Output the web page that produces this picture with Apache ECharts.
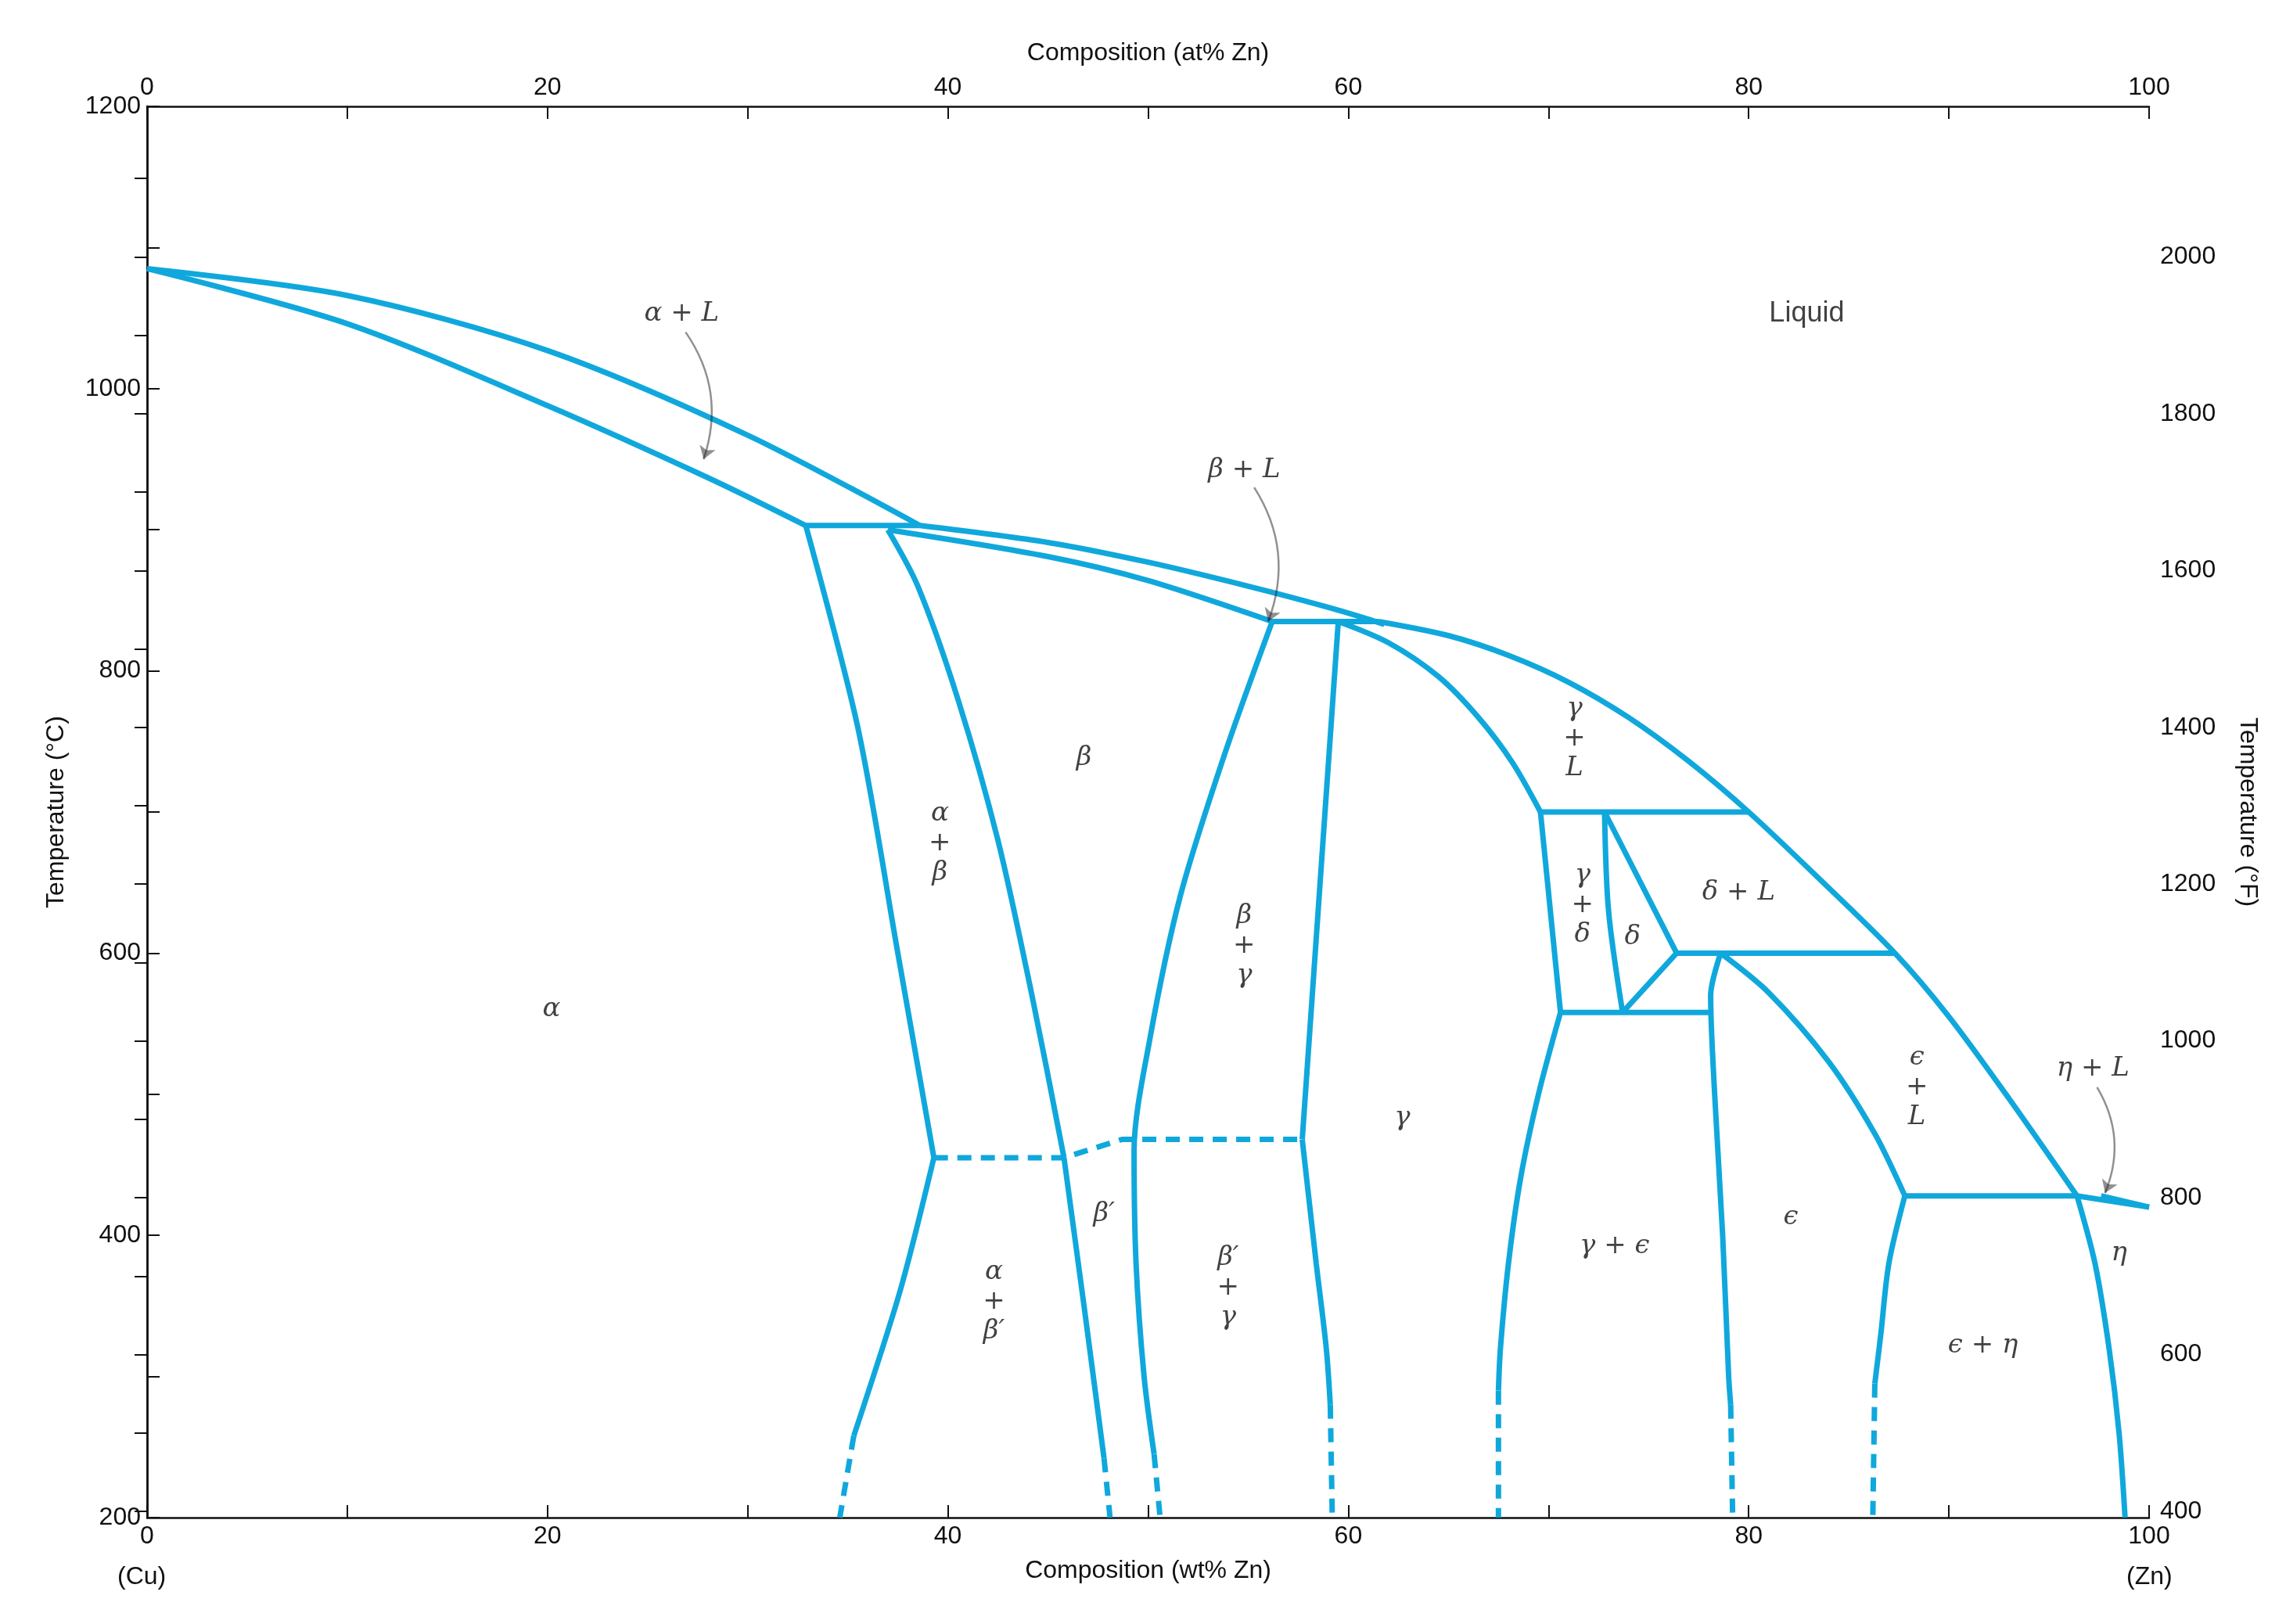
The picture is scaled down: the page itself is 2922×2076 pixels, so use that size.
<!DOCTYPE html>
<html><head><meta charset="utf-8">
<script src="https://cdn.jsdelivr.net/npm/echarts@6/dist/echarts.min.js"></script>
<style>html,body{margin:0;background:#fff}#c{width:2922px;height:2076px}</style></head>
<body><div id="c"></div>
<script>
// Boundaries: [wt% Zn, °C]
const alphaLiquidus = [[0,1085],[10,1066],[20,1027],[30,967],[38.6,903]];
const alphaSolidus = [[0,1085],[10,1046],[20,988],[28,937],[32.9,903]];
const peritectic903 = [[32.9,903],[38.6,903]];
const alphaSolvusHigh = [[32.9,903],[35.5,760],[37.5,600],[39.3,455]];
const alphaSolvusLow = [[39.3,455],[37.6,360],[35.3,258]];
const alphaSolvusDash = [[35.3,258],[34.6,200]];
const betaLeftHigh = [[37.0,900],[38.5,860],[40.5,780],[42.5,680],[44.2,570],[45.8,455]];
const betaLeftLow = [[45.8,455],[46.8,350],[47.8,242]];
const betaLeftDash = [[47.8,242],[48.1,200]];
const orderDash1 = [[39.3,455],[45.8,455],[48.7,468],[57.7,468]];
const betaLiquidus = [[38.6,903],[45,891],[50,877],[55,860],[59,845],[61.8,833]];
const betaSolidus = [[37.0,900],[45,881],[50,864],[56.2,835]];
const peritectic835 = [[56.2,835],[61.5,835]];
const betaGammaLeft = [[56.2,835],[53.8,740],[51.6,640],[50.1,540],[49.3,460],[49.4,380],[49.8,300],[50.3,245]];
const betaGammaLeftDash = [[50.3,245],[50.6,200]];
const gammaLeftHigh = [[59.5,835],[57.7,468]];
const gammaLeftLow = [[57.7,468],[58.4,380],[58.9,320],[59.1,280]];
const gammaLeftDash = [[59.1,280],[59.2,200]];
const gammaLiquidus = [[61.5,835],[65,825],[68,811],[71,792],[74,767],[77,736],[80,700],[83.5,653],[87.3,600],[90,555],[93,497],[96.4,428]];
const zincEnd = [[96.4,428],[100,420]];
const gammaSolidus = [[59.5,835],[62,820],[64.5,796],[66.5,767],[68.2,735],[69.6,700]];
const peritectic700 = [[69.6,700],[80,700]];
const gammaDelta = [[69.6,700],[70.6,558]];
const gammaEps = [[70.6,558],[69.5,500],[68.6,440],[68,380],[67.6,320],[67.5,290]];
const gammaEpsDash = [[67.5,290],[67.5,200]];
const deltaLeft = [[72.8,700],[73.0,630],[73.7,558]];
const deltaRight = [[72.8,700],[76.4,600]];
const deltaBottom = [[73.7,558],[76.4,600]];
const eutectoid558 = [[70.6,558],[78.1,558]];
const peritectic600 = [[76.4,600],[87.3,600]];
const epsLeft = [[78.6,600],[78.1,570],[78.3,500],[78.7,400],[79.0,300],[79.1,280]];
const epsLeftDash = [[79.1,280],[79.2,200]];
const epsSolidus = [[78.6,600],[81,572],[84,523],[86.3,472],[87.8,428]];
const peritectic428 = [[87.8,428],[96.4,428]];
const epsRight = [[87.8,428],[87,380],[86.6,330],[86.3,295]];
const epsRightDash = [[86.3,295],[86.2,200]];
const etaLeft = [[96.4,428],[97.3,380],[98,320],[98.5,260],[98.8,200]];
const etaSolidus = [[97.6,428],[100,420]];

const curves = [alphaLiquidus,alphaSolidus,betaLiquidus,betaSolidus,gammaLiquidus,gammaSolidus,epsSolidus,
  alphaSolvusHigh,alphaSolvusLow,betaLeftHigh,betaLeftLow,betaGammaLeft,gammaLeftLow,gammaEps,deltaLeft,epsLeft,epsRight,etaLeft];
const straightLines = [peritectic903,peritectic835,peritectic700,gammaLeftHigh,gammaDelta,deltaRight,deltaBottom,eutectoid558,peritectic600,peritectic428,etaSolidus,zincEnd];
const dashedLines = [alphaSolvusDash,betaLeftDash,orderDash1,betaGammaLeftDash,gammaLeftDash,gammaEpsDash,epsLeftDash,epsRightDash];

const regionLabels = [
 ['Liquid',82.9,1053,'sans'],['α + L',26.7,1053],['β + L',54.8,942],['γ\n+\nL',71.3,752],
 ['α',20.2,560],['β',46.8,738],['α\n+\nβ',39.6,678],['β\n+\nγ',54.8,605],['γ',62.7,483],
 ['γ\n+\nδ',71.7,634],['δ',74.2,611],['δ + L',79.5,643],['ϵ\n+\nL',88.4,505],['η + L',97.2,518],
 ['β′',47.8,415],['α\n+\nβ′',42.3,353],['β′\n+\nγ',54,363],['γ + ϵ',73.3,392],['ϵ',82.1,413],
 ['ϵ + η',91.7,322],['η',98.5,387]
];
const arrows = [[[26.9,1040],[27.8,950]],[[55.3,930],[56.0,835]],[[97.4,505],[97.8,430]]];
const fTicks = [400,600,800,1000,1200,1400,1600,1800,2000,2200];
const fMinor = [500,700,900,1100,1300,1500,1700,1900,2100];

const C = '#10a8dc', LW = 7;
const series = [];
curves.forEach(d=>series.push({type:'line',data:d,smooth:0.3,showSymbol:false,lineStyle:{color:C,width:LW},z:3}));
straightLines.forEach(d=>series.push({type:'line',data:d,showSymbol:false,lineStyle:{color:C,width:LW},z:3}));
dashedLines.forEach(d=>series.push({type:'line',data:d,showSymbol:false,lineStyle:{color:C,width:LW,type:[18,12]},z:3}));
series.push({type:'lines',coordinateSystem:'cartesian2d',data:arrows.map(a=>({coords:a})),
  lineStyle:{color:'#222',width:2.5,curveness:0.25},symbol:['none','arrow'],symbolSize:16,z:4});
series.push({type:'scatter',symbolSize:0,z:5,
  data:regionLabels.map(r=>({value:[r[1],r[2]],name:r[0],
    label:r[3]==='sans'?{fontFamily:'Liberation Sans',fontStyle:'normal',fontSize:36}:{}})),
  label:{show:true,position:'inside',formatter:p=>p.name,color:'#111',fontFamily:'DejaVu Serif',fontStyle:'italic',fontSize:34,lineHeight:38,align:'center',verticalAlign:'middle'}});

const tick = {inside:true,length:16,lineStyle:{color:'#111',width:2}};
const minor = {show:true,splitNumber:2,length:16,lineStyle:{color:'#111',width:2}};
const lab = {color:'#111',fontSize:32,fontFamily:'Liberation Sans',formatter:v=>String(v)};
const nm = {color:'#111',fontSize:32,fontFamily:'Liberation Sans'};
const aline = {lineStyle:{color:'#111',width:2.5}};
const chart = echarts.init(document.getElementById('c'));
chart.setOption({
  animation:false,
  grid:{left:188,right:175,top:136,bottom:136},
  xAxis:[
    {type:'value',min:0,max:100,interval:20,position:'bottom',name:'Composition (wt% Zn)',nameLocation:'middle',nameGap:52,axisLine:aline,axisTick:tick,minorTick:minor,splitLine:{show:false},axisLabel:lab,nameTextStyle:nm},
    {type:'value',min:0,max:100,interval:20,position:'top',name:'Composition (at% Zn)',nameLocation:'middle',nameGap:52,axisLine:aline,axisTick:tick,minorTick:minor,splitLine:{show:false},axisLabel:lab,nameTextStyle:nm}
  ],
  yAxis:[
    {type:'value',min:200,max:1200,interval:200,position:'left',name:'Temperature (°C)',nameLocation:'middle',nameGap:100,nameRotate:90,axisLine:aline,axisTick:tick,minorTick:minor,splitLine:{show:false},axisLabel:lab,nameTextStyle:nm},
    {type:'value',min:392,max:2192,position:'right',name:'Temperature (°F)',nameLocation:'middle',nameGap:110,nameRotate:-90,axisLine:aline,
      axisTick:Object.assign({},tick,{customValues:fTicks.concat(fMinor)}),minorTick:{show:false},splitLine:{show:false},
      axisLabel:Object.assign({},lab,{customValues:fTicks,margin:14}),nameTextStyle:nm}
  ],
  graphic:[
    {type:'text',left:150,top:2000,style:{text:'(Cu)',fontSize:32,fontFamily:'Liberation Sans',fill:'#111'}},
    {type:'text',left:2718,top:2000,style:{text:'(Zn)',fontSize:32,fontFamily:'Liberation Sans',fill:'#111'}}
  ],
  series:series
});
</script></body></html>
